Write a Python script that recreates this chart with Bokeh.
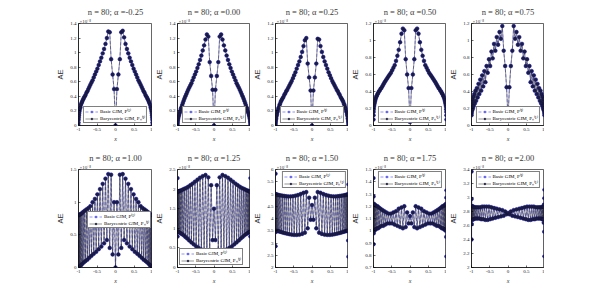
from bokeh.plotting import figure
from bokeh.layouts import column, row
from bokeh.models import (Range1d, FixedTicker, NumeralTickFormatter, Legend,
                          LegendItem, Title, ColumnDataSource)
from bokeh.embed import file_html
from bokeh.resources import INLINE

# ---------------- data ----------------
N_NODES = 80
X = [-1.0, -0.999, -0.997, -0.993, -0.988, -0.981, -0.972, -0.962, -0.951, -0.938,
     -0.924, -0.908, -0.891, -0.873, -0.853, -0.831, -0.809, -0.785, -0.760, -0.734,
     -0.707, -0.679, -0.649, -0.619, -0.588, -0.556, -0.522, -0.489, -0.454, -0.419,
     -0.383, -0.346, -0.309, -0.271, -0.233, -0.195, -0.156, -0.118, -0.078, -0.039,
     0.0,
     0.039, 0.078, 0.118, 0.156, 0.195, 0.233, 0.271, 0.309, 0.346, 0.383,
     0.419, 0.454, 0.489, 0.522, 0.556, 0.588, 0.619, 0.649, 0.679, 0.707,
     0.734, 0.760, 0.785, 0.809, 0.831, 0.853, 0.873, 0.891, 0.908, 0.924,
     0.938, 0.951, 0.962, 0.972, 0.981, 0.988, 0.993, 0.997, 0.999, 1.0]

AE_M025 = [0.00, 0.04, 0.08, 0.11, 0.14, 0.17, 0.20, 0.23, 0.25, 0.28, 0.30, 0.32, 0.34, 0.36,
           0.38, 0.40, 0.42, 0.45, 0.47, 0.50, 0.53, 0.56, 0.59, 0.62, 0.66, 0.70, 0.74, 0.78,
           0.83, 0.88, 0.93, 0.99, 1.05, 1.12, 1.20, 1.29, 1.28, 0.91, 0.70, 0.50, 0.00,
           0.50, 0.70, 0.91, 1.28, 1.30, 1.21, 1.12, 1.05, 0.99, 0.93, 0.88, 0.83, 0.78, 0.74,
           0.70, 0.66, 0.62, 0.59, 0.56, 0.53, 0.50, 0.47, 0.45, 0.42, 0.40, 0.38, 0.36, 0.34,
           0.32, 0.30, 0.28, 0.25, 0.23, 0.20, 0.17, 0.14, 0.11, 0.08, 0.04, 0.00]
AE_000 = [0.00, 0.02, 0.04, 0.06, 0.08, 0.10, 0.12, 0.14, 0.16, 0.18, 0.20, 0.23, 0.25, 0.28,
          0.31, 0.34, 0.37, 0.40, 0.43, 0.46, 0.49, 0.52, 0.55, 0.58, 0.62, 0.66, 0.70, 0.74,
          0.79, 0.84, 0.90, 0.96, 1.03, 1.10, 1.18, 1.25, 1.22, 0.87, 0.68, 0.49, 0.00,
          0.49, 0.68, 0.87, 1.22, 1.25, 1.18, 1.10, 1.03, 0.96, 0.90, 0.84, 0.79, 0.74, 0.70,
          0.66, 0.62, 0.58, 0.55, 0.52, 0.49, 0.46, 0.43, 0.40, 0.37, 0.34, 0.31, 0.28, 0.25,
          0.23, 0.20, 0.18, 0.16, 0.14, 0.12, 0.10, 0.08, 0.06, 0.04, 0.02, 0.00]
AE_025 = [0.00, 0.02, 0.04, 0.06, 0.08, 0.10, 0.13, 0.15, 0.18, 0.20, 0.23, 0.25, 0.28, 0.30,
          0.33, 0.35, 0.37, 0.39, 0.42, 0.44, 0.47, 0.49, 0.52, 0.55, 0.58, 0.61, 0.65, 0.69,
          0.73, 0.78, 0.83, 0.88, 0.94, 1.01, 1.09, 1.17, 1.20, 0.85, 0.66, 0.48, 0.00,
          0.48, 0.66, 0.85, 1.19, 1.18, 1.09, 1.01, 0.94, 0.88, 0.83, 0.78, 0.73, 0.69, 0.65,
          0.61, 0.58, 0.55, 0.52, 0.49, 0.47, 0.44, 0.42, 0.39, 0.37, 0.35, 0.33, 0.30, 0.28,
          0.25, 0.23, 0.20, 0.18, 0.15, 0.13, 0.10, 0.08, 0.06, 0.04, 0.02, 0.00]
AE_050 = [0.07, 0.12, 0.16, 0.19, 0.22, 0.24, 0.26, 0.28, 0.30, 0.32, 0.34, 0.35, 0.37, 0.38,
          0.40, 0.41, 0.43, 0.44, 0.46, 0.48, 0.50, 0.52, 0.54, 0.56, 0.58, 0.60, 0.62, 0.65,
          0.68, 0.71, 0.76, 0.82, 0.89, 0.98, 1.08, 1.14, 1.12, 0.78, 0.60, 0.44, 0.04,
          0.44, 0.60, 0.78, 1.12, 1.14, 1.08, 0.98, 0.89, 0.82, 0.76, 0.71, 0.68, 0.65, 0.62,
          0.60, 0.58, 0.56, 0.54, 0.52, 0.50, 0.48, 0.46, 0.44, 0.43, 0.41, 0.40, 0.38, 0.37,
          0.35, 0.34, 0.32, 0.30, 0.28, 0.26, 0.24, 0.22, 0.19, 0.16, 0.12, 0.07]
AE_075 = [0.12, 0.14, 0.24, 0.16, 0.28, 0.18, 0.31, 0.20, 0.34, 0.23, 0.37, 0.26, 0.41, 0.29,
          0.44, 0.33, 0.49, 0.37, 0.54, 0.41, 0.59, 0.46, 0.64, 0.51, 0.70, 0.62, 0.78, 0.70,
          0.87, 0.79, 0.96, 0.88, 1.04, 0.95, 1.10, 1.02, 1.17, 0.88, 0.70, 0.45, 0.08,
          0.45, 0.70, 0.88, 1.17, 1.02, 1.10, 0.95, 1.04, 0.88, 0.96, 0.79, 0.87, 0.70, 0.78,
          0.62, 0.70, 0.51, 0.64, 0.46, 0.59, 0.41, 0.54, 0.37, 0.49, 0.33, 0.44, 0.29, 0.41,
          0.26, 0.37, 0.23, 0.34, 0.20, 0.31, 0.18, 0.28, 0.16, 0.24, 0.14, 0.12]
AE_100 = [0.00, 0.80, 0.01, 0.80, 0.01, 0.81, 0.02, 0.81, 0.03, 0.82, 0.04, 0.83, 0.06, 0.85,
          0.08, 0.87, 0.10, 0.89, 0.12, 0.91, 0.15, 0.94, 0.18, 1.00, 0.21, 1.05, 0.24, 1.12,
          0.28, 1.20, 0.32, 1.28, 0.37, 1.36, 0.42, 1.43, 0.30, 1.42, 0.20, 1.00, 0.00,
          1.00, 0.20, 1.42, 0.30, 1.43, 0.42, 1.36, 0.37, 1.28, 0.32, 1.20, 0.28, 1.12, 0.24,
          1.05, 0.21, 1.00, 0.18, 0.94, 0.15, 0.91, 0.12, 0.89, 0.10, 0.87, 0.08, 0.85, 0.06,
          0.83, 0.04, 0.82, 0.03, 0.81, 0.02, 0.81, 0.01, 0.80, 0.01, 0.80, 0.00]
AE_125 = [2.28, 0.79, 1.93, 0.91, 1.93, 0.91, 1.94, 0.90, 1.95, 0.89, 1.96, 0.87, 1.97, 0.85,
          1.99, 0.82, 2.01, 0.78, 2.03, 0.74, 2.06, 0.69, 2.10, 0.64, 2.14, 0.59, 2.19, 0.54,
          2.24, 0.50, 2.29, 0.46, 2.33, 0.43, 2.36, 0.41, 2.30, 0.45, 2.10, 0.70, 1.50,
          0.70, 2.10, 0.45, 2.30, 0.41, 2.36, 0.43, 2.33, 0.46, 2.29, 0.50, 2.24, 0.54, 2.19,
          0.59, 2.14, 0.64, 2.10, 0.69, 2.06, 0.74, 2.03, 0.78, 2.01, 0.82, 1.99, 0.85, 1.97,
          0.87, 1.96, 0.89, 1.95, 0.90, 1.94, 0.91, 1.93, 0.91, 1.93, 0.79, 2.28]
AE_150 = [5.83, 2.87, 5.00, 3.45, 4.98, 3.50, 4.98, 3.50, 4.97, 3.49, 4.96, 3.48, 4.95, 3.46,
          4.94, 3.44, 4.93, 3.42, 4.92, 3.40, 4.91, 3.38, 4.90, 3.36, 4.90, 3.34, 4.91, 3.33,
          4.93, 3.33, 4.96, 3.34, 5.00, 3.37, 5.05, 3.42, 5.08, 3.60, 4.85, 3.95, 4.55,
          3.95, 4.85, 3.60, 5.08, 3.42, 5.05, 3.37, 5.00, 3.34, 4.96, 3.33, 4.93, 3.33, 4.91,
          3.34, 4.90, 3.36, 4.90, 3.38, 4.91, 3.40, 4.92, 3.42, 4.93, 3.44, 4.94, 3.46, 4.95,
          3.48, 4.96, 3.49, 4.97, 3.50, 4.98, 3.50, 4.98, 3.10, 4.99, 2.44, 5.39]
AE_175 = [1.43, 0.89, 1.28, 0.98, 1.22, 1.00, 1.21, 1.01, 1.21, 1.01, 1.20, 1.02, 1.20, 1.02,
          1.19, 1.03, 1.18, 1.04, 1.17, 1.04, 1.16, 1.05, 1.15, 1.06, 1.14, 1.06, 1.14, 1.06,
          1.15, 1.05, 1.16, 1.04, 1.18, 1.03, 1.19, 1.02, 1.20, 1.03, 1.15, 1.06, 1.12,
          1.06, 1.15, 1.03, 1.20, 1.02, 1.19, 1.03, 1.18, 1.04, 1.16, 1.05, 1.15, 1.06, 1.14,
          1.06, 1.14, 1.06, 1.15, 1.05, 1.16, 1.04, 1.17, 1.04, 1.18, 1.03, 1.19, 1.02, 1.20,
          1.02, 1.20, 1.01, 1.21, 1.01, 1.21, 1.00, 1.22, 0.95, 1.27, 0.79, 1.33]
AE_200 = [3.37, 2.40, 2.98, 2.62, 2.88, 2.68, 2.87, 2.69, 2.87, 2.69, 2.86, 2.70, 2.86, 2.70,
          2.86, 2.70, 2.86, 2.70, 2.86, 2.69, 2.87, 2.69, 2.87, 2.68, 2.87, 2.68, 2.87, 2.69,
          2.86, 2.70, 2.85, 2.71, 2.84, 2.72, 2.83, 2.73, 2.82, 2.74, 2.80, 2.76, 2.78,
          2.76, 2.80, 2.74, 2.82, 2.73, 2.83, 2.72, 2.84, 2.71, 2.85, 2.70, 2.86, 2.69, 2.87,
          2.68, 2.87, 2.68, 2.87, 2.69, 2.87, 2.69, 2.86, 2.70, 2.86, 2.70, 2.86, 2.70, 2.86,
          2.70, 2.86, 2.69, 2.87, 2.69, 2.87, 2.64, 2.90, 2.51, 2.99, 2.16, 3.11]

ALPHA_LABELS = ["-0.25", "0.00", "0.25", "0.50", "0.75",
                "1.00", "1.25", "1.50", "1.75", "2.00"]
SERIES = [AE_M025, AE_000, AE_025, AE_050, AE_075,
          AE_100, AE_125, AE_150, AE_175, AE_200]
Y_LIMS = [(0, 1.4), (0, 1.4), (0, 1.4), (0, 1.2), (0, 1.2),
          (0, 1.5), (0, 2.5), (2, 6), (0.7, 1.5), (2, 3.4)]
Y_TICKS = [[0, 0.2, 0.4, 0.6, 0.8, 1, 1.2, 1.4],
           [0, 0.2, 0.4, 0.6, 0.8, 1, 1.2, 1.4],
           [0, 0.2, 0.4, 0.6, 0.8, 1, 1.2, 1.4],
           [0, 0.2, 0.4, 0.6, 0.8, 1, 1.2],
           [0, 0.2, 0.4, 0.6, 0.8, 1, 1.2],
           [0, 0.5, 1, 1.5],
           [0, 0.5, 1, 1.5, 2, 2.5],
           [2, 2.5, 3, 3.5, 4, 4.5, 5, 5.5, 6],
           [0.7, 0.8, 0.9, 1, 1.1, 1.2, 1.3, 1.4, 1.5],
           [2, 2.2, 2.4, 2.6, 2.8, 3, 3.2, 3.4]]
X_TICKS = [-1, -0.5, 0, 0.5, 1]
EXPONENT = "×10⁻⁸"
LEGEND_LABELS = ["Basic GIM, P⁽¹⁾", "Barycentric GIM, Pₙ⁽¹⁾"]
LEGEND_LOC = ["bottom_center"] * 5 + [(9, 39), "bottom_left", "top_right", "top_center", "top_center"]

SERIF = "Liberation Serif"
SANS = "Liberation Sans"


def make_panel(i):
    first_col = (i % 5 == 0)
    top_row = i < 5
    ylo, yhi = Y_LIMS[i]
    p = figure(width=152 if first_col else 98, height=150 if top_row else 142,
               output_backend="svg", toolbar_location=None, title=None,
               x_range=Range1d(-1, 1), y_range=Range1d(ylo, yhi),
               min_border_left=78 if first_col else 24, min_border_right=0,
               min_border_top=23 if top_row else 15, min_border_bottom=25)
    p.background_fill_color = "white"
    p.border_fill_color = "white"
    p.outline_line_color = "black"
    p.outline_line_width = 0.6
    p.xgrid.visible = False
    p.ygrid.visible = False

    # exponent marker just above the frame, then the panel title above it
    p.add_layout(Title(text=EXPONENT, align="left", text_font=SERIF,
                       text_font_size="5px", text_font_style="normal",
                       text_color="#333333", standoff=0, offset=1), "above")
    p.add_layout(Title(text=f"n = {N_NODES}; α ={ALPHA_LABELS[i]}", align="center",
                       text_font=SERIF, text_font_size="8.5px",
                       text_font_style="normal", text_color="#3a3a3a",
                       standoff=0), "above")

    for ax in (p.xaxis[0], p.yaxis[0]):
        ax.major_tick_in = 2
        ax.major_tick_out = 0
        ax.minor_tick_line_color = None
        ax.axis_line_color = "black"
        ax.axis_line_width = 0.6
        ax.major_tick_line_width = 0.6
        ax.major_tick_line_color = "black"
        ax.major_label_text_font = SERIF
        ax.major_label_text_font_size = "5px"
        ax.major_label_text_color = "#222222"
        ax.major_label_standoff = 2
        ax.axis_label_standoff = 2
        ax.axis_label_text_color = "#333333"
        ax.formatter = NumeralTickFormatter(format="0.[0]")
    p.xaxis.ticker = FixedTicker(ticks=X_TICKS)
    p.yaxis.ticker = FixedTicker(ticks=Y_TICKS[i])
    p.xaxis.axis_label = "x"
    p.xaxis.axis_label_text_font = SERIF
    p.xaxis.axis_label_text_font_style = "italic"
    p.xaxis.axis_label_text_font_size = "6px"
    p.yaxis.axis_label = "AE"
    p.yaxis.axis_label_text_font = SANS
    p.yaxis.axis_label_text_font_style = "normal"
    p.yaxis.axis_label_text_font_size = "7.5px"

    src = ColumnDataSource(dict(x=X, y=SERIES[i]))
    b_line = p.line("x", "y", source=src, line_color="#4a4aff", line_width=0.6, line_dash="3 2")
    b_mark = p.scatter("x", "y", source=src, marker="circle", size=3.8,
                       fill_color="#6a6ae8", line_color="#4a4aee", line_width=0.5)
    c_line = p.line("x", "y", source=src, line_color="#2a2a2a", line_width=0.5)
    c_mark = p.scatter("x", "y", source=src, marker="circle", size=3.4,
                       fill_color="#1c1c48", line_color="#0c0c26", line_width=0.3)

    legend = Legend(items=[LegendItem(label=LEGEND_LABELS[0], renderers=[b_line, b_mark]),
                           LegendItem(label=LEGEND_LABELS[1], renderers=[c_line, c_mark])],
                    location=LEGEND_LOC[i])
    legend.label_text_font = SERIF
    legend.label_text_font_size = "5px"
    legend.label_text_color = "black"
    legend.label_height = 5
    legend.glyph_height = 5
    legend.glyph_width = 13
    legend.label_standoff = 2
    legend.spacing = 1
    legend.padding = 1
    legend.margin = 2
    legend.border_line_color = "black"
    legend.border_line_width = 0.5
    legend.background_fill_alpha = 1
    p.add_layout(legend)
    return p


panels = [make_panel(i) for i in range(10)]
layout = column(row(*panels[:5]), row(*panels[5:]))

open("out.html", "w").write(file_html(layout, INLINE))
